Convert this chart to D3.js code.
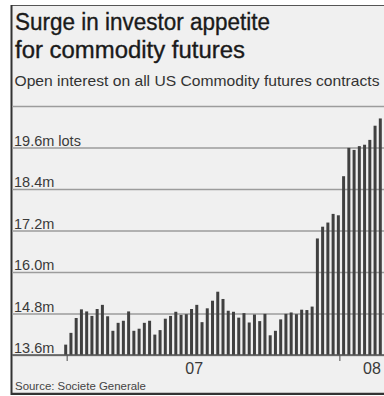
<!DOCTYPE html>
<html><head><meta charset="utf-8">
<script src="https://cdn.jsdelivr.net/npm/d3@7"></script>
<style>html,body{margin:0;padding:0;background:#fff}svg{display:block}</style>
</head><body>
<script>
const weeks = ["2007-01-05","2007-01-12","2007-01-19","2007-01-26","2007-02-02","2007-02-09","2007-02-16","2007-02-23","2007-03-02","2007-03-09","2007-03-16","2007-03-23","2007-03-30","2007-04-06","2007-04-13","2007-04-20","2007-04-27","2007-05-04","2007-05-11","2007-05-18","2007-05-25","2007-06-01","2007-06-08","2007-06-15","2007-06-22","2007-06-29","2007-07-06","2007-07-13","2007-07-20","2007-07-27","2007-08-03","2007-08-10","2007-08-17","2007-08-24","2007-08-31","2007-09-07","2007-09-14","2007-09-21","2007-09-28","2007-10-05","2007-10-12","2007-10-19","2007-10-26","2007-11-02","2007-11-09","2007-11-16","2007-11-23","2007-11-30","2007-12-07","2007-12-14","2007-12-21","2007-12-28","2008-01-04","2008-01-11","2008-01-18","2008-01-25","2008-02-01","2008-02-08","2008-02-15","2008-02-22","2008-02-29"];
const openInterest = [13.90,14.24,14.67,14.92,14.86,14.73,14.93,15.05,14.72,14.30,14.53,14.59,14.86,14.30,14.36,14.53,14.59,14.19,14.32,14.65,14.73,14.85,14.76,14.78,14.93,15.05,14.55,14.95,15.17,15.43,15.22,14.88,14.85,14.68,14.81,14.54,14.77,14.58,14.79,14.17,14.30,14.63,14.79,14.83,14.78,14.91,14.90,15.00,16.97,17.31,17.43,17.68,17.64,18.77,19.59,19.53,19.64,19.68,19.82,20.23,20.44];
const yTicks = [13.6,14.8,16.0,17.2,18.4,19.6,20.8];
const yTickLabels = ["13.6m","14.8m","16.0m","17.2m","18.4m","19.6m lots",""];
const xTickWeeks = ["2007-01-05","2008-01-04"];
const xLabelWeeks = ["2007-06-22","2008-02-22"];
const xLabels = ["07","08"];
const titleLines = ["Surge in investor appetite","for commodity futures"];
const subtitle = "Open interest on all US Commodity futures contracts";
const source = "Source: Societe Generale";

const W = 384, H = 396;
const font = "'Liberation Sans', Arial, sans-serif";
const svg = d3.select("body").append("svg").attr("width", W).attr("height", H)
  .style("font-family", font);

// panel
svg.append("rect").attr("x", 11.5).attr("y", 5).attr("width", W - 11.5).attr("height", 389).attr("fill", "#f0f0f0");
svg.append("line").attr("x1", 11).attr("x2", W).attr("y1", 5.5).attr("y2", 5.5).attr("stroke", "#555").attr("stroke-width", 1.2);
svg.append("line").attr("x1", 11.5).attr("x2", 11.5).attr("y1", 5).attr("y2", 395).attr("stroke", "#333").attr("stroke-width", 2);
svg.append("line").attr("x1", 11).attr("x2", W).attr("y1", 393.8).attr("y2", 393.8).attr("stroke", "#333").attr("stroke-width", 2.2);

// titles
const tW = [255, 230];
titleLines.forEach((t, i) => {
  svg.append("text").attr("x", 15).attr("y", 29.5 + i * 28).attr("font-size", 23.5).attr("fill", "#1a1a1a")
    .attr("stroke", "#1a1a1a").attr("stroke-width", 0.35)
    .attr("textLength", tW[i]).attr("lengthAdjust", "spacingAndGlyphs").text(t);
});
svg.append("text").attr("x", 14.5).attr("y", 85.5).attr("font-size", 14.5).attr("fill", "#333")
  .attr("textLength", 365).attr("lengthAdjust", "spacingAndGlyphs").text(subtitle);

// scales
const x = d3.scaleBand().domain(weeks).range([64.2, 381.8]).paddingInner(0.43).paddingOuter(0);
const y = d3.scaleLinear().domain([13.6, 20.8]).range([355, 106]);

// grid + labels
const gy = svg.append("g").attr("transform", "translate(12,0)")
  .call(d3.axisRight(y).tickValues(yTicks).tickSize(W - 12).tickFormat((d, i) => yTickLabels[i]));
gy.select(".domain").remove();
gy.selectAll(".tick line").attr("stroke", "#9c9c9c").attr("stroke-width", 1.7);
gy.selectAll(".tick text").attr("x", 2).attr("y", -2.5).attr("dy", 0).attr("text-anchor", "start")
  .attr("font-size", 14.5).attr("font-family", font).attr("fill", "#3a3a3a");

// bars
svg.append("g").selectAll("rect").data(openInterest).join("rect")
  .attr("x", (d, i) => x(weeks[i]))
  .attr("width", x.bandwidth())
  .attr("y", d => y(d))
  .attr("height", d => y(13.6) - y(d))
  .attr("fill", "#404040");

// x axis
const gx = svg.append("g").attr("transform", `translate(${x.bandwidth() / 2},355)`)
  .call(d3.axisBottom(x).tickValues(xTickWeeks).tickSize(6).tickFormat(""));
gx.select(".domain").remove();
gx.selectAll(".tick line").attr("stroke", "#666").attr("stroke-width", 1.2);
svg.append("line").attr("x1", 12).attr("x2", W).attr("y1", y(13.6)).attr("y2", y(13.6))
  .attr("stroke", "#555").attr("stroke-width", 1.7);

xLabels.forEach((t, i) => {
  const c = x(xLabelWeeks[i]) + x.bandwidth() / 2;
  const cx = i === 0 ? c + x.step() / 2 : Math.min(c, W - 12);
  svg.append("text").attr("x", cx).attr("y", 374).attr("text-anchor", "middle")
    .attr("font-size", 16).attr("fill", "#3a3a3a").text(t);
});

svg.append("text").attr("x", 15).attr("y", 389.5).attr("font-size", 11.5).attr("fill", "#444")
  .attr("textLength", 131).attr("lengthAdjust", "spacingAndGlyphs").text(source);
</script>
</body></html>
